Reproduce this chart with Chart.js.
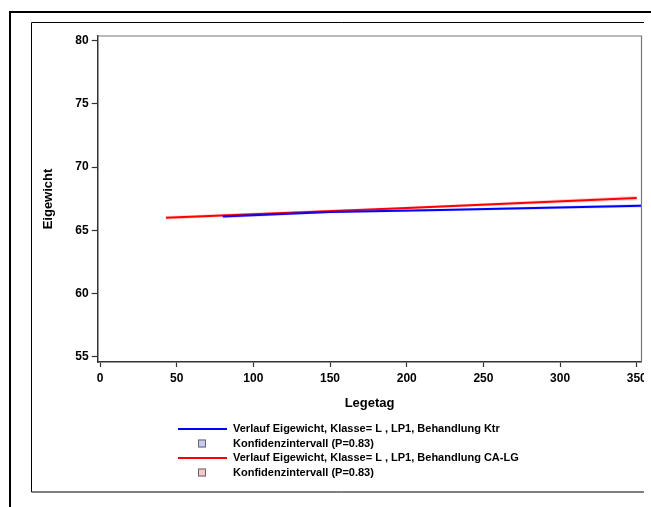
<!DOCTYPE html>
<html>
<head>
<meta charset="utf-8">
<script src="https://cdn.jsdelivr.net/npm/chart.js@4/dist/chart.umd.min.js"></script>
<style>
html,body{margin:0;padding:0;background:#fff;overflow:hidden;}
#page{width:651px;height:507px;position:relative;overflow:hidden;}
#outer{position:absolute;left:9px;top:11px;width:700px;height:600px;border-left:2px solid #000;border-top:2px solid #000;}
#clip{position:absolute;left:0;top:0;width:644px;height:507px;overflow:hidden;}
#c{position:absolute;left:0;top:0;}
</style>
</head>
<body>
<div id="page">
<div id="outer"></div>
<div id="clip"><canvas id="c" width="651" height="507"></canvas></div>
</div>
<script>
// ---- data ----
const ktrDays = [80, 150, 222, 353];
const ktrWeight = [66.10, 66.45, 66.62, 66.95];
const ktrLower = [65.97, 66.35, 66.52, 66.82];
const ktrUpper = [66.23, 66.55, 66.72, 67.08];

const caDays = [43, 200, 350];
const caWeight = [66.00, 66.78, 67.56];
const caLower = [65.86, 66.68, 67.38];
const caUpper = [66.14, 66.88, 67.74];

const xTicks = [0, 50, 100, 150, 200, 250, 300, 350];
const yTicks = [55, 60, 65, 70, 75, 80];

const labelKtr = 'Verlauf Eigewicht, Klasse= L , LP1, Behandlung Ktr';
const labelCa = 'Verlauf Eigewicht, Klasse= L , LP1, Behandlung CA-LG';
const labelCI = 'Konfidenzintervall (P=0.83)';
const xTitle = 'Legetag';
const yTitle = 'Eigewicht';

const pts = (xs, ys) => xs.map((x, i) => ({x: x, y: ys[i]}));

const tickFont = {family: '"Liberation Sans Narrow", "Liberation Sans", Arial, sans-serif', size: 12, weight: 'bold'};

const framePlugin = {
  id: 'frames',
  beforeDraw(chart) {
    const ctx = chart.ctx;
    ctx.save();
    // inner frame (right side falls outside the visible area)
    ctx.strokeStyle = '#000';
    ctx.lineWidth = 1;
    ctx.beginPath();
    ctx.moveTo(660, 22.5); ctx.lineTo(31.5, 22.5); ctx.lineTo(31.5, 492); ctx.lineTo(660, 492);
    ctx.stroke();
    ctx.restore();
  },
  afterDraw(chart) {
    const ctx = chart.ctx;
    const a = chart.chartArea;
    ctx.save();
    ctx.strokeStyle = '#777';
    ctx.lineWidth = 1.2;
    ctx.beginPath();
    ctx.moveTo(a.left, a.top); ctx.lineTo(a.right, a.top); ctx.lineTo(a.right, a.bottom);
    ctx.stroke();
    // axis titles
    ctx.fillStyle = '#000';
    ctx.font = 'bold 13px "Liberation Sans", Arial, sans-serif';
    ctx.textAlign = 'center';
    ctx.textBaseline = 'middle';
    ctx.fillText(xTitle, (a.left + a.right) / 2, 403);
    ctx.save();
    ctx.translate(48, (a.top + a.bottom) / 2);
    ctx.rotate(-Math.PI / 2);
    ctx.fillText(yTitle, 0, 0);
    ctx.restore();
    // legend
    ctx.font = 'bold 11px "Liberation Sans", Arial, sans-serif';
    ctx.textAlign = 'left';
    const items = [
      {type: 'line', color: '#0000ff', text: labelKtr, y: 429},
      {type: 'box', fill: '#c8c8f4', text: labelCI, y: 443.5},
      {type: 'line', color: '#ff0000', text: labelCa, y: 458},
      {type: 'box', fill: '#f6c8c8', text: labelCI, y: 472.5}
    ];
    items.forEach(it => {
      if (it.type === 'line') {
        ctx.strokeStyle = it.color;
        ctx.lineWidth = 2;
        ctx.beginPath();
        ctx.moveTo(178, it.y); ctx.lineTo(227, it.y);
        ctx.stroke();
      } else {
        ctx.fillStyle = it.fill;
        ctx.fillRect(198, it.y - 4, 8, 8);
        ctx.strokeStyle = '#666';
        ctx.lineWidth = 1;
        ctx.strokeRect(198.5, it.y - 3.5, 7, 7);
      }
      ctx.fillStyle = '#000';
      ctx.fillText(it.text, 233, it.y);
    });
    ctx.restore();
  }
};

const bandDs = (xs, ys, color, fillTarget) => ({
  data: pts(xs, ys), borderWidth: 0, pointRadius: 0, borderColor: 'rgba(0,0,0,0)',
  backgroundColor: color, fill: fillTarget, tension: 0
});

new Chart(document.getElementById('c'), {
  type: 'line',
  data: {
    datasets: [
      bandDs(ktrDays, ktrLower, 'rgba(0,0,255,0.18)', false),
      bandDs(ktrDays, ktrUpper, 'rgba(0,0,255,0.18)', '-1'),
      bandDs(caDays, caLower, 'rgba(255,0,0,0.18)', false),
      bandDs(caDays, caUpper, 'rgba(255,0,0,0.18)', '-1'),
      {label: labelKtr, data: pts(ktrDays, ktrWeight), borderColor: '#0000ff', borderWidth: 2, pointRadius: 0, fill: false, tension: 0},
      {label: labelCa, data: pts(caDays, caWeight), borderColor: '#ff0000', borderWidth: 2, pointRadius: 0, fill: false, tension: 0}
    ]
  },
  options: {
    responsive: false,
    animation: false,
    events: [],
    layout: {padding: {left: 0, right: 9.5, top: 36, bottom: 0}},
    plugins: {legend: {display: false}, tooltip: {enabled: false}, filler: {propagate: false}},
    scales: {
      x: {
        type: 'linear', min: -1.5, max: 353.1,
        afterBuildTicks(s) { s.ticks = xTicks.map(v => ({value: v})); },
        afterFit(s) { s.height = 507 - 362; },
        grid: {display: true, drawOnChartArea: false, drawTicks: true, tickLength: 5, color: '#333', tickWidth: 1.2},
        border: {display: true, color: '#333', width: 1.5},
        ticks: {color: '#000', font: tickFont, padding: 4, maxRotation: 0, autoSkip: false}
      },
      y: {
        type: 'linear', min: 54.6, max: 80.37,
        afterBuildTicks(s) { s.ticks = yTicks.map(v => ({value: v})); },
        afterFit(s) { s.width = 97.7; },
        grid: {display: true, drawOnChartArea: false, drawTicks: true, tickLength: 6, color: '#333', tickWidth: 1.2},
        border: {display: true, color: '#333', width: 1.5},
        ticks: {color: '#000', font: tickFont, padding: 3, autoSkip: false}
      }
    }
  },
  plugins: [framePlugin]
});
</script>
</body>
</html>
